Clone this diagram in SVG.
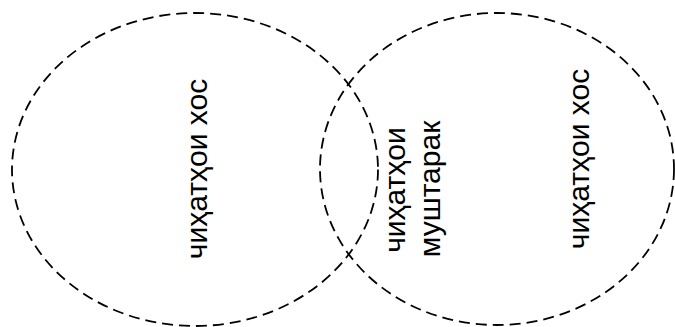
<svg xmlns="http://www.w3.org/2000/svg" width="675" height="327" viewBox="0 0 675 327">
<style>
.c{fill:none;stroke:#000;stroke-width:1.8;stroke-dasharray:11 6}
.t{font-family:"Liberation Sans",Arial,sans-serif;font-size:30px;fill:#000}
</style>
<rect width="675" height="327" fill="#fff"/>
<g id="left">
<ellipse class="c" cx="195" cy="169.5" rx="183" ry="156.5"/>
<text class="t" transform="translate(207,169) rotate(-90)" text-anchor="middle">чиҳатҳои хос</text>
</g>
<g id="right">
<ellipse class="c" cx="497" cy="169" rx="177" ry="156"/>
<text class="t" transform="translate(589,159) rotate(-90)" text-anchor="middle">чиҳатҳои хос</text>
</g>
<g id="common">
<text class="t" transform="translate(405,190) rotate(-90)" text-anchor="middle">чиҳатҳои</text>
<text class="t" transform="translate(440,189) rotate(-90)" text-anchor="middle">муштарак</text>
</g>
<g id="connectors"/>
</svg>
